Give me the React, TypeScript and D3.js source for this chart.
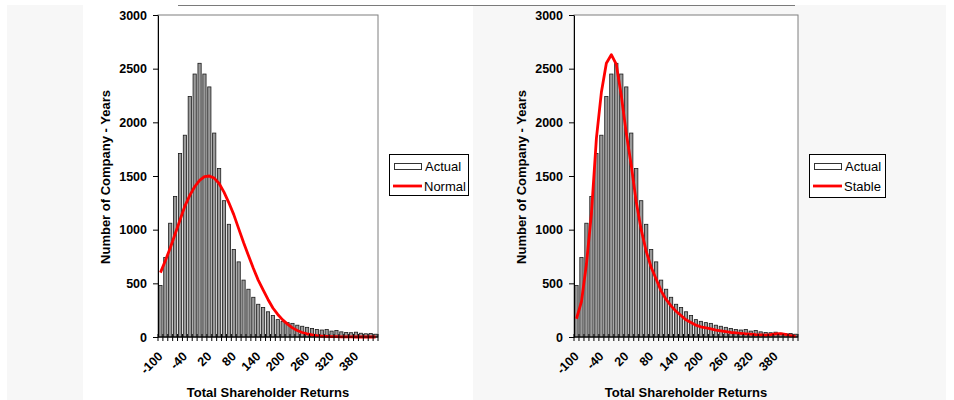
import React, { useEffect, useRef } from "react";
import * as d3 from "d3";

// bin starts (width 12) of the return histogram
const categories = [
  -100, -88, -76, -64, -52, -40, -28, -16, -4, 8, 20, 32, 44, 56, 68, 80, 92,
  104, 116, 128, 140, 152, 164, 176, 188, 200, 212, 224, 236, 248, 260, 272,
  284, 296, 308, 320, 332, 344, 356, 368, 380, 392, 404, 416, 428,
];

const actual = [
  480, 740, 1060, 1310, 1710, 1880, 2240, 2450, 2550, 2450, 2330, 1900, 1570,
  1270, 1050, 815, 700, 530, 445, 370, 305, 275, 235, 200, 162, 146, 134, 127,
  110, 100, 90, 80, 70, 65, 70, 55, 60, 48, 42, 40, 45, 35, 30, 32, 26,
];

const normal = [
  600, 710, 830, 960, 1090, 1220, 1320, 1400, 1460, 1495, 1500, 1480, 1430,
  1350, 1250, 1140, 1010, 880, 760, 640, 530, 440, 350, 270, 210, 160, 120, 85,
  60, 42, 30, 20, 13, 9, 6, 4, 3, 2, 1, 1, 0, 0, 0, 0, 0,
];

const stable = [
  170, 330, 680, 1150, 1850, 2280, 2550, 2630, 2540, 2250, 1900, 1600, 1260,
  1000, 800, 650, 540, 430, 350, 290, 240, 200, 160, 135, 110, 95, 85, 75, 65,
  58, 50, 42, 38, 34, 30, 26, 22, 20, 18, 22, 30, 32, 24, 14, 5,
];

const yTicks = [0, 500, 1000, 1500, 2000, 2500, 3000];
const labelEvery = 5;

const FONT = "'Liberation Sans', Arial, Helvetica, sans-serif";

function drawPanel(svg, o) {
  const x = d3
    .scaleBand()
    .domain(categories)
    .range([o.left, o.right])
    .paddingInner(0.34)
    .paddingOuter(0.17);
  const y = d3.scaleLinear().domain([0, 3000]).range([o.bottom, o.top]);
  const step = x.step();
  const bw = x.bandwidth();
  const gap = (step - bw) / 2;

  // plot area
  svg
    .append("rect")
    .attr("x", o.left)
    .attr("y", o.top)
    .attr("width", o.right - o.left)
    .attr("height", o.bottom - o.top)
    .attr("fill", "#fff")
    .attr("stroke", "#7f7f7f")
    .attr("stroke-width", 1);

  // bars
  svg
    .append("g")
    .selectAll("rect")
    .data(actual)
    .join("rect")
    .attr("x", (d, i) => x(categories[i]))
    .attr("y", (d) => y(d))
    .attr("width", bw)
    .attr("height", (d) => y(0) - y(d))
    .attr("fill", "#9a9a9a")
    .attr("stroke", "#1a1a1a")
    .attr("stroke-width", 0.8);

  // fitted line
  const line = d3
    .line()
    .x((d, i) => x(categories[i]) + bw / 2)
    .y((d) => y(d));
  svg
    .append("path")
    .datum(o.fit)
    .attr("d", line)
    .attr("fill", "none")
    .attr("stroke", "#ff0000")
    .attr("stroke-width", 2.8)
    .attr("stroke-linejoin", "round");

  // y axis
  const yAxis = svg
    .append("g")
    .attr("transform", `translate(${o.left},0)`)
    .call(
      d3
        .axisLeft(y)
        .tickValues(yTicks)
        .tickFormat(d3.format("d"))
        .tickSize(5)
        .tickPadding(6)
        .tickSizeOuter(0)
    );
  yAxis.select(".domain").attr("stroke", "#000");
  yAxis.selectAll("line").attr("stroke", "#000");
  yAxis
    .selectAll("text")
    .attr("font-family", FONT)
    .attr("font-size", 12.5)
    .attr("font-weight", "bold")
    .attr("fill", "#000");

  // x axis
  const xa = svg.append("g");
  xa.append("line")
    .attr("x1", o.left)
    .attr("x2", o.right)
    .attr("y1", y(0))
    .attr("y2", y(0))
    .attr("stroke", "#000");
  xa.selectAll("line.tk")
    .data(categories.concat([null]))
    .join("line")
    .attr("class", "tk")
    .attr("x1", (d) => (d === null ? o.right : x(d) - gap))
    .attr("x2", (d) => (d === null ? o.right : x(d) - gap))
    .attr("y1", y(0) - 3)
    .attr("y2", y(0) + 4)
    .attr("stroke", "#000")
    .attr("stroke-width", 1);
  xa.selectAll("text")
    .data(categories.filter((d, i) => i % labelEvery === 0))
    .join("text")
    .attr(
      "transform",
      (d) => `translate(${x(d) + bw / 2},${y(0) + 17}) rotate(-45)`
    )
    .attr("text-anchor", "end")
    .attr("dy", "0.35em")
    .attr("font-family", FONT)
    .attr("font-size", 12.5)
    .attr("font-weight", "bold")
    .text((d) => d);

  // titles
  svg
    .append("text")
    .attr("x", (o.left + o.right) / 2)
    .attr("y", 397)
    .attr("text-anchor", "middle")
    .attr("font-family", FONT)
    .attr("font-size", 13)
    .attr("font-weight", "bold")
    .text("Total Shareholder Returns");
  svg
    .append("text")
    .attr("transform", `translate(${o.left - 48},${(o.top + o.bottom) / 2 + 1}) rotate(-90)`)
    .attr("text-anchor", "middle")
    .attr("font-family", FONT)
    .attr("font-size", 13)
    .attr("font-weight", "bold")
    .text("Number of Company - Years");

  // legend
  const lg = svg.append("g").attr("transform", `translate(${o.legendX},154)`);
  lg.append("rect")
    .attr("x", 0.5)
    .attr("y", 0.5)
    .attr("width", o.legendW)
    .attr("height", o.legendH)
    .attr("fill", "#fff")
    .attr("stroke", "#000");
  lg.append("rect")
    .attr("x", 5.5)
    .attr("y", 9.5)
    .attr("width", 27)
    .attr("height", 6)
    .attr("fill", "#fff")
    .attr("stroke", "#333");
  lg.append("line")
    .attr("x1", 4)
    .attr("x2", 33)
    .attr("y1", 32)
    .attr("y2", 32)
    .attr("stroke", "#ff0000")
    .attr("stroke-width", 2.8);
  lg.append("text")
    .attr("x", 36)
    .attr("y", 17)
    .attr("font-family", FONT)
    .attr("font-size", 13)
    .text("Actual");
  lg.append("text")
    .attr("x", 35)
    .attr("y", 37)
    .attr("font-family", FONT)
    .attr("font-size", 13)
    .text(o.fitName);
}

const App = () => {
  const svgRef = useRef(null);

  useEffect(() => {
    const svg = d3.select(svgRef.current);
    svg.selectAll("*").remove();

    svg.append("rect").attr("x", 7).attr("y", 5).attr("width", 76).attr("height", 395).attr("fill", "#f7f7f7");
    svg.append("rect").attr("x", 473).attr("y", 5).attr("width", 473).attr("height", 395).attr("fill", "#f7f7f7");
    svg
      .append("line")
      .attr("x1", 178)
      .attr("x2", 795)
      .attr("y1", 5.5)
      .attr("y2", 5.5)
      .attr("stroke", "#7a7a7a");

    drawPanel(svg, {
      left: 158,
      right: 378,
      top: 15,
      bottom: 337,
      fit: normal,
      fitName: "Normal",
      legendX: 389,
      legendW: 79,
      legendH: 41,
    });
    drawPanel(svg, {
      left: 574,
      right: 798,
      top: 15,
      bottom: 337,
      fit: stable,
      fitName: "Stable",
      legendX: 809,
      legendW: 76,
      legendH: 43,
    });
  }, []);

  return (
    <svg
      ref={svgRef}
      width={954}
      height={400}
      style={{ position: "absolute", left: 0, top: 0 }}
    />
  );
};

export default App;
